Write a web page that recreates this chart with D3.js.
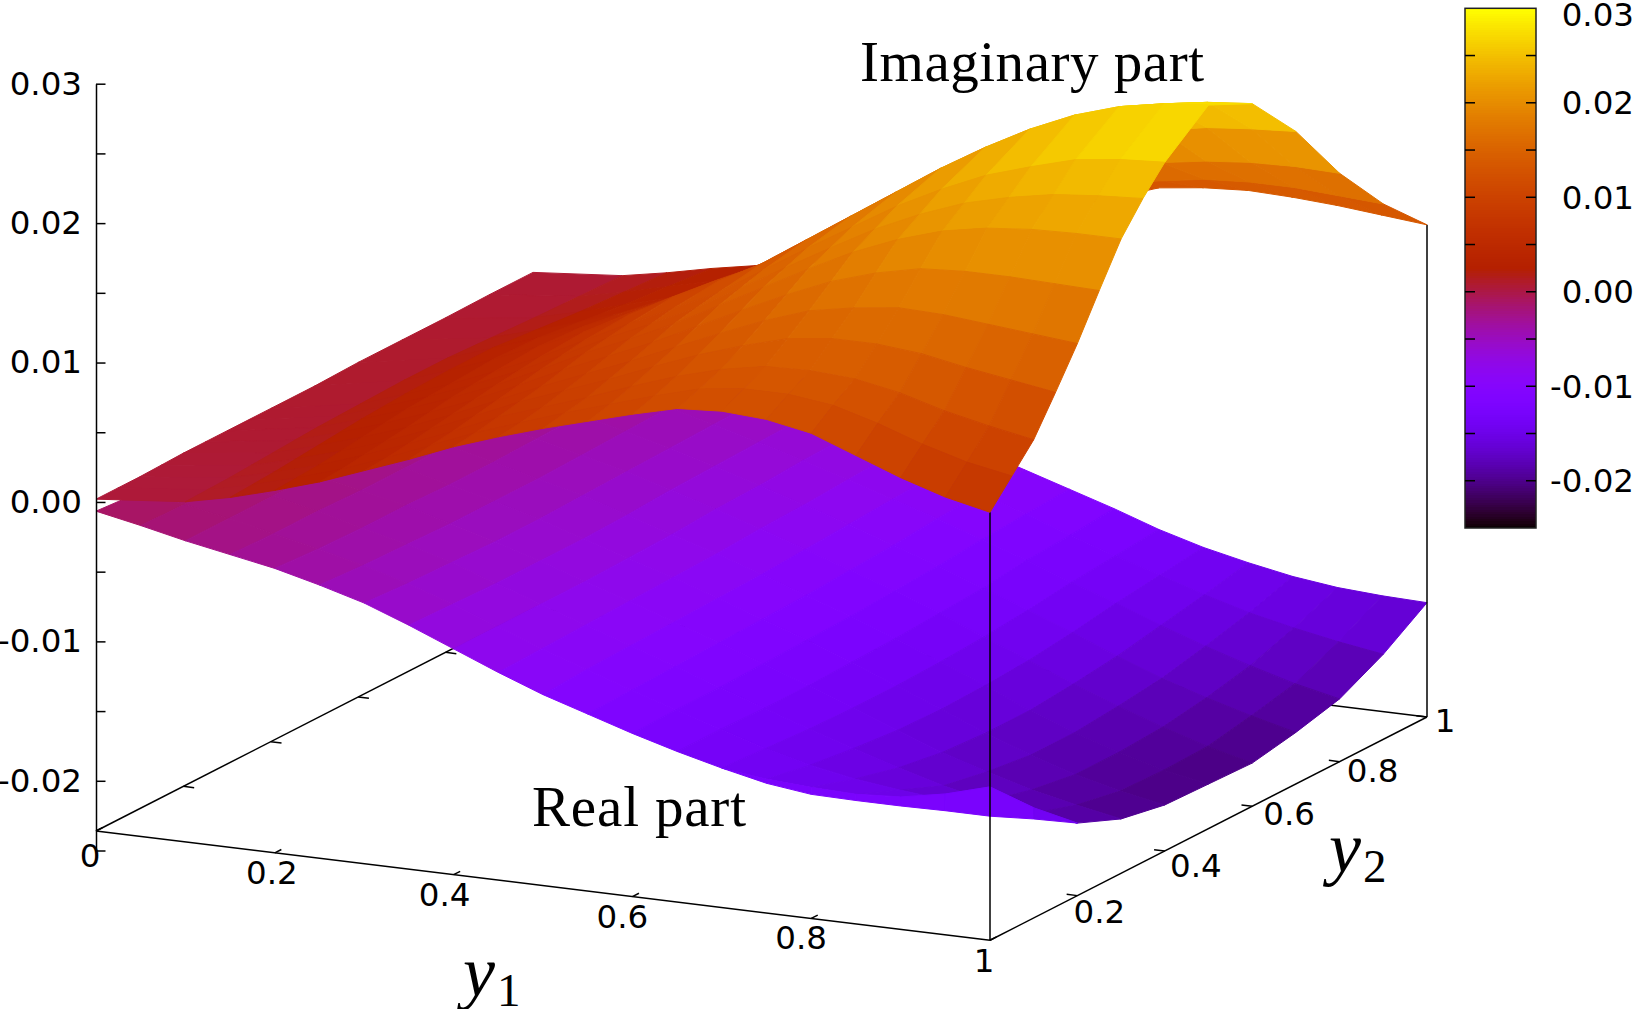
<!DOCTYPE html>
<html>
<head>
<meta charset="utf-8">
<script src="https://cdn.jsdelivr.net/npm/d3@7"></script>
<style>
  html, body { margin: 0; padding: 0; background: #fff; overflow: hidden; }
</style>
</head>
<body>
<div id="chart"></div>
<script>
// grid nodes of the two surfaces
const realY1 = [0, 0.05, 0.1, 0.15, 0.2, 0.25, 0.3, 0.35, 0.4, 0.45, 0.5, 0.55, 0.6, 0.65, 0.7, 0.75, 0.8, 0.85, 0.9, 0.95, 1];
const realY2 = [0, 0.1, 0.2, 0.3, 0.4, 0.5, 0.6, 0.7, 0.8, 0.9, 1];
const imagY1 = [0, 0.1, 0.15, 0.2, 0.25, 0.3, 0.35, 0.4, 0.45, 0.5, 0.55, 0.6, 0.65, 0.7, 0.75, 0.8, 0.85, 0.9, 0.95, 1];
const imagY2 = [0, 0.05, 0.1, 0.15, 0.2, 0.25, 0.3, 0.35, 0.4, 0.5, 0.6, 0.7, 0.8, 0.9, 1];

// surface heights in units of 1e-3, one row per y2 node, one column per y1 node
const realPart = [
  [-0.66, -1.3, -2.0, -2.6, -3.2, -4.0, -4.9, -6.1, -7.4, -8.7, -9.9, -10.9, -11.9, -12.8, -13.6, -14.0, -14.2, -14.3, -14.1, -13.5, -12.6],
  [-0.9, -1.4, -2.0, -2.7, -3.4, -4.2, -5.1, -6.2, -7.4, -8.6, -9.7, -10.8, -11.8, -12.8, -13.8, -14.6, -15.2, -15.6, -15.9, -15.9, -15.7],
  [-1.0, -1.5, -2.0, -2.7, -3.5, -4.3, -5.2, -6.3, -7.4, -8.5, -9.6, -10.7, -11.8, -12.9, -14.0, -15.0, -16.0, -16.9, -17.6, -18.1, -18.4],
  [-1.1, -1.6, -2.1, -2.8, -3.5, -4.4, -5.3, -6.3, -7.4, -8.4, -9.5, -10.6, -11.7, -12.9, -14.1, -15.3, -16.5, -17.5, -18.4, -19.1, -19.7],
  [-1.2, -1.6, -2.1, -2.8, -3.6, -4.4, -5.3, -6.3, -7.3, -8.3, -9.4, -10.5, -11.6, -12.8, -14.1, -15.4, -16.7, -17.9, -18.9, -19.7, -20.3],
  [-1.2, -1.6, -2.1, -2.8, -3.6, -4.4, -5.2, -6.2, -7.2, -8.2, -9.3, -10.4, -11.5, -12.7, -14.0, -15.3, -16.7, -17.9, -18.9, -19.8, -20.4],
  [-1.2, -1.6, -2.1, -2.8, -3.5, -4.3, -5.1, -6.0, -7.0, -8.0, -9.1, -10.2, -11.3, -12.5, -13.8, -15.1, -16.4, -17.6, -18.7, -19.7, -20.5],
  [-1.2, -1.6, -2.1, -2.7, -3.4, -4.2, -5.0, -5.9, -6.9, -7.9, -8.9, -10.0, -11.1, -12.3, -13.5, -14.7, -16.0, -17.2, -18.2, -19.1, -19.9],
  [-1.2, -1.6, -2.0, -2.6, -3.3, -4.1, -4.9, -5.8, -6.7, -7.7, -8.7, -9.7, -10.8, -11.9, -13.1, -14.2, -15.4, -16.5, -17.5, -18.4, -19.1],
  [-1.2, -1.6, -2.0, -2.6, -3.3, -4.0, -4.8, -5.7, -6.6, -7.5, -8.5, -9.5, -10.6, -11.7, -12.8, -13.8, -14.8, -15.7, -16.4, -17.0, -17.5],
  [-1.2, -1.6, -2.0, -2.6, -3.2, -3.9, -4.7, -5.6, -6.5, -7.4, -8.4, -9.4, -10.4, -11.4, -12.5, -13.4, -14.1, -14.7, -15.1, -15.3, -15.4]
];
const imagPart = [
  [0.2, 0.8, 1.5, 2.4, 3.4, 4.6, 5.8, 7.1, 8.2, 9.2, 10.1, 11.0, 11.8, 12.0, 11.8, 11.2, 10.0, 8.8, 7.8, 7.1],
  [0.2, 0.85, 1.6, 2.5, 3.5, 4.7, 6.0, 7.3, 8.4, 9.5, 10.5, 11.5, 12.4, 12.8, 12.8, 12.4, 11.5, 10.4, 9.5, 8.9],
  [0.2, 0.9, 1.7, 2.6, 3.7, 4.9, 6.2, 7.6, 8.7, 9.8, 11.0, 12.1, 13.0, 13.6, 13.7, 13.5, 12.9, 12.0, 11.3, 10.7],
  [0.25, 1.0, 1.85, 2.8, 3.9, 5.15, 6.5, 7.9, 9.1, 10.3, 11.6, 12.85, 13.9, 14.8, 15.2, 15.2, 14.9, 14.3, 13.8, 13.3],
  [0.3, 1.1, 2.0, 3.0, 4.1, 5.4, 6.8, 8.2, 9.5, 10.8, 12.2, 13.6, 14.9, 16.0, 16.6, 17.0, 16.9, 16.6, 16.3, 16.0],
  [0.3, 1.2, 2.15, 3.2, 4.35, 5.65, 7.1, 8.6, 9.95, 11.35, 12.9, 14.45, 15.95, 17.3, 18.3, 19.0, 19.2, 19.2, 19.1, 19.0],
  [0.3, 1.3, 2.3, 3.4, 4.6, 5.9, 7.4, 9.0, 10.4, 11.9, 13.6, 15.3, 17.0, 18.6, 19.9, 20.9, 21.5, 21.8, 21.9, 21.9],
  [0.3, 1.35, 2.4, 3.5, 4.75, 6.1, 7.65, 9.25, 10.7, 12.2, 14.05, 15.9, 17.7, 19.45, 20.9, 22.1, 22.9, 23.5, 23.8, 24.0],
  [0.3, 1.4, 2.5, 3.6, 4.9, 6.3, 7.9, 9.5, 11.0, 12.5, 14.5, 16.5, 18.4, 20.3, 21.9, 23.3, 24.3, 25.2, 25.6, 25.8],
  [0.3, 1.5, 2.6, 3.8, 5.1, 6.5, 8.1, 9.8, 11.3, 13.0, 15.1, 17.2, 19.3, 21.4, 23.3, 25.0, 26.4, 27.4, 28.0, 28.3],
  [0.4, 1.5, 2.6, 3.7, 4.9, 6.2, 7.8, 9.4, 10.9, 12.5, 14.5, 16.5, 18.6, 20.6, 22.4, 23.9, 25.1, 26.0, 26.5, 26.8],
  [0.4, 1.35, 2.3, 3.3, 4.4, 5.6, 7.0, 8.5, 9.9, 11.3, 13.1, 14.9, 16.7, 18.5, 20.0, 21.2, 22.1, 22.7, 23.0, 23.2],
  [0.4, 1.2, 2.0, 2.9, 3.8, 4.8, 6.1, 7.4, 8.6, 9.9, 11.4, 12.9, 14.5, 16.0, 17.0, 17.8, 18.3, 18.6, 18.7, 18.6],
  [0.45, 1.1, 1.8, 2.6, 3.4, 4.2, 5.3, 6.4, 7.5, 8.6, 9.9, 11.2, 12.5, 13.8, 14.5, 15.0, 15.2, 15.2, 15.0, 14.8],
  [0.45, 1.0, 1.6, 2.3, 2.9, 3.6, 4.6, 5.6, 6.6, 7.6, 8.7, 9.8, 10.9, 12.0, 12.4, 12.6, 12.5, 12.3, 12.0, 11.7]
];

// thin fold of the real surface along its front corner
const foldY1 = [0.7, 0.75, 0.8, 0.85, 0.9, 0.95, 1, 1, 1];
const foldY2 = [0, 0, 0, 0, 0, 0, 0, 0.1, 0.2];
const foldTop = [-13.6, -14.0, -14.2, -14.3, -14.1, -13.5, -12.6, -15.7, -18.4];
const foldBottom = [-13.6, -14.3, -14.7, -14.75, -14.75, -14.7, -14.7, -16.5, -18.4];
const foldShade = [-12.6, -12.5, -12.4, -12.3, -12.3, -12.4, -12.8, -14];

const xyTicks = [0, 0.2, 0.4, 0.6, 0.8, 1];
const zTicks = [-25, -20, -15, -10, -5, 0, 5, 10, 15, 20, 25, 30];
const zLabels = [-20, -10, 0, 10, 20, 30];
const zFloor = -23.6;

const width = 1634, height = 1009;

const svg = d3.select("#chart").append("svg")
  .attr("width", width)
  .attr("height", height)
  .style("display", "block");

// Scales. The view is a parallel projection, so each axis just adds a screen offset
const originX = 96;
const zScale = d3.scaleLinear().domain([-25, 30]).range([850.5, 83.7]);
const y1ToX = d3.scaleLinear().domain([0, 1]).range([0, 894]);
const y1ToY = d3.scaleLinear().domain([0, 1]).range([0, 109.3]);
const y2ToX = d3.scaleLinear().domain([0, 1]).range([0, 437]);
const y2ToY = d3.scaleLinear().domain([0, 1]).range([0, -223.3]);

function project(u, v, z) {
  return [originX + y1ToX(u) + y2ToX(v), zScale(z) + y1ToY(u) + y2ToY(v)];
}

// gnuplot's default palette (rgbformulae 7,5,15)
function palette(t) {
  const r = Math.sqrt(t), g = t * t * t, b = Math.max(0, Math.sin(2 * Math.PI * t));
  return d3.rgb(r * 255, g * 255, b * 255).formatHex();
}
const color = d3.scaleSequential(palette).domain([-25, 30]);

const polygon = d3.line();
const FONT = "DejaVu Sans";
const SERIF = "Liberation Serif";
const fmtZ = d => d3.format(".2f")(d / 1000).replace("\u2212", "-");

function segment(g, a, b) {
  g.append("line")
    .attr("x1", a[0]).attr("y1", a[1])
    .attr("x2", b[0]).attr("y2", b[1])
    .attr("stroke", "#000")
    .attr("stroke-width", 1.5);
}

// Back edges go first, the surfaces cover them
const back = svg.append("g");
segment(back, project(0, 0, zFloor), project(0, 1, zFloor));
segment(back, project(0, 1, zFloor), project(1, 1, zFloor));
xyTicks.slice(1, -1).forEach(t => {
  segment(back, project(0, t, zFloor), project(0.012, t, zFloor));
  segment(back, project(t, 1, zFloor), project(t, 0.985, zFloor));
});

// Far rows first, so nearer facets paint over them
function facets(grid, us, vs) {
  const out = [];
  for (let j = vs.length - 2; j >= 0; j--) {
    for (let i = 0; i < us.length - 1; i++) {
      const corners = [[i, j], [i + 1, j], [i + 1, j + 1], [i, j + 1]];
      out.push({
        points: corners.map(([a, b]) => project(us[a], vs[b], grid[b][a])),
        value: d3.mean(corners, ([a, b]) => grid[b][a])
      });
    }
  }
  return out;
}

function drawSurface(data) {
  svg.append("g").selectAll("path")
    .data(data)
    .enter()
    .append("path")
    .attr("d", d => polygon(d.points) + "Z")
    .attr("fill", d => color(d.value))
    .attr("stroke", d => color(d.value))
    .attr("stroke-width", 1)
    .attr("stroke-linejoin", "round");
}

drawSurface(facets(realPart, realY1, realY2));

drawSurface(foldShade.map((value, i) => ({
  value,
  points: [
    project(foldY1[i], foldY2[i], foldTop[i]),
    project(foldY1[i + 1], foldY2[i + 1], foldTop[i + 1]),
    project(foldY1[i + 1], foldY2[i + 1], foldBottom[i + 1]),
    project(foldY1[i], foldY2[i], foldBottom[i])
  ]
})));

// Front verticals run from the floor up to the imaginary surface corners
const front = svg.append("g");
segment(front, project(1, 0, zFloor), project(1, 0, imagPart[0][imagY1.length - 1]));
segment(front, project(1, 1, zFloor), project(1, 1, imagPart[imagY2.length - 1][imagY1.length - 1]));

drawSurface(facets(imagPart, imagY1, imagY2));

// z axis
const zAxis = svg.append("g")
  .attr("transform", `translate(${originX},0)`)
  .call(d3.axisLeft(zScale)
    .tickValues(zTicks)
    .tickSizeInner(-9.5)
    .tickSizeOuter(0)
    .tickPadding(14)
    .tickFormat(d => zLabels.includes(d) ? fmtZ(d) : ""));
zAxis.select(".domain").attr("stroke-width", 1.5);
zAxis.selectAll(".tick line").attr("stroke-width", 1.5);
zAxis.selectAll("text")
  .attr("font-family", FONT)
  .attr("font-size", 32.5)
  .attr("fill", "#000");

// floor axes with their labels
const floor = svg.append("g");
segment(floor, project(0, 0, zFloor), project(1, 0, zFloor));
segment(floor, project(1, 0, zFloor), project(1, 1, zFloor));

function tickLabel(text, x, y) {
  floor.append("text")
    .attr("x", x)
    .attr("y", y)
    .attr("text-anchor", "middle")
    .attr("font-family", FONT)
    .attr("font-size", 32.5)
    .text(text);
}

const y1Nudge = [-6, -3, -9, -10, -10, -6];
const y1Drop = [36, 31, 31, 31, 31, 32];
xyTicks.forEach((t, i) => {
  const p = project(t, 0, zFloor);
  segment(floor, p, project(t, 0.015, zFloor));
  tickLabel(d3.format("~g")(t), p[0] + y1Nudge[i], p[1] + y1Drop[i]);
});

const y2Nudge = [0, 22, 31, 37, 33, 18];
const y2Drop = [0, 27, 26, 19, 20, 15];
xyTicks.slice(1).forEach((t, i) => {
  const p = project(1, t, zFloor);
  segment(floor, p, project(0.988, t, zFloor));
  tickLabel(d3.format("~g")(t), p[0] + y2Nudge[i + 1], p[1] + y2Drop[i + 1]);
});

// Colour box
const cbScale = d3.scaleLinear().domain([-25, 30]).range([528, 8.3]);
const cb = svg.append("g");
const cbStep = 0.25;
const cbLevels = d3.range(-25, 30, cbStep);
cb.append("g")
  .attr("shape-rendering", "crispEdges")
  .selectAll("rect")
  .data(cbLevels)
  .enter()
  .append("rect")
  .attr("x", 1465)
  .attr("width", 71)
  .attr("y", d => Math.floor(cbScale(d + cbStep)))
  .attr("height", d => Math.ceil(cbScale(d)) - Math.floor(cbScale(d + cbStep)))
  .attr("fill", d => color(d + cbStep / 2));
cb.append("rect")
  .attr("x", 1465).attr("y", 8.3)
  .attr("width", 71).attr("height", 519.7)
  .attr("fill", "none")
  .attr("stroke", "#222")
  .attr("stroke-width", 1.5);
zTicks.slice(1, -1).forEach(d => {
  const y = cbScale(d);
  segment(cb, [1465, y], [1475, y]);
  segment(cb, [1526, y], [1536, y]);
});
zLabels.forEach(d => {
  cb.append("text")
    .attr("x", 1634)
    .attr("y", Math.max(cbScale(d), 14) + 11.5)
    .attr("text-anchor", "end")
    .attr("font-family", FONT)
    .attr("font-size", 32.5)
    .text(fmtZ(d));
});

// Annotations
function note(text, x, y, w) {
  svg.append("text")
    .attr("x", x)
    .attr("y", y)
    .attr("font-family", SERIF)
    .attr("font-size", 57)
    .attr("textLength", w)
    .attr("lengthAdjust", "spacing")
    .text(text);
}
note("Imaginary part", 860, 81, 344);
note("Real part", 532, 826, 214);

function axisName(sub, x, y) {
  const t = svg.append("text")
    .attr("x", x)
    .attr("y", y)
    .attr("font-family", SERIF);
  t.append("tspan")
    .attr("font-style", "italic")
    .attr("font-size", 72)
    .text("y");
  t.append("tspan")
    .attr("font-size", 47)
    .attr("dy", 10)
    .attr("dx", 2)
    .text(sub);
}
axisName("1", 463, 996);
axisName("2", 1329, 872);
</script>
</body>
</html>
